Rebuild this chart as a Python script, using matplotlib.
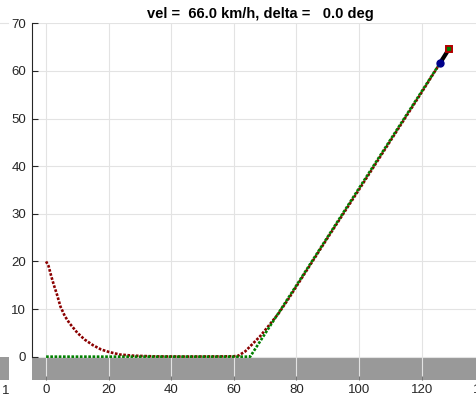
import matplotlib
matplotlib.use("Agg")
import matplotlib.pyplot as plt
from matplotlib.patches import Rectangle

plt.rcParams['font.family'] = ['Liberation Sans', 'DejaVu Sans']

# trajectory (x in m, y in m)
red_x = [0, 0.8, 1.6, 2.5, 3.5, 4.6, 6, 7.5, 10, 12.3, 15, 17.6, 20, 23.5, 28, 35, 45,
         55, 60, 61.4, 63.6, 65.7, 68.4, 71, 74.3, 77.5, 80.7, 90, 100, 110, 120, 128.8]
red_y = [20, 19, 17, 15, 13, 10.5, 8.5, 7, 5, 3.6, 2.4, 1.5, 1.0, 0.45, 0.2, 0.05, 0.02,
         0.05, 0.08, 0.2, 1.1, 2.5, 4.3, 6.4, 9.1, 12.2, 15.5, 25.0, 35.1, 45.3, 55.5, 64.7]

green_x = [0, 30, 65.2, 80, 100, 125.8]
green_y = [0, 0, 0, 15.0, 35.4, 61.6]

# current car pose: rear (blue) -> front (red square)
car_x = [125.8, 128.8]
car_y = [61.6, 64.7]

title = 'vel =  66.0 km/h, delta =   0.0 deg'
xticks = [0, 20, 40, 60, 80, 100, 120, 140]
yticks = [0, 10, 20, 30, 40, 50, 60, 70]

W, H = 477, 398
fig = plt.figure(figsize=(W / 100, H / 100), dpi=100)

left, right, top, bottom = 31.7, 489.3, 23.3, 380.0
ax = fig.add_axes([left / W, 1 - bottom / H, (right - left) / W, (bottom - top) / H])
ax.set_xlim(-4.6, 141.6)
ax.set_ylim(-4.9, 70)

# ground
ax.add_patch(Rectangle((-10, -10), 200, 10, facecolor='#999999', edgecolor='none', zorder=0.4))

ax.plot(red_x, red_y, color='#8b0000', lw=1.9, linestyle=(0, (1, 0.6)), zorder=2)
ax.plot(green_x, green_y, color='#008000', lw=1.9, linestyle=(0, (1, 0.6)), zorder=2.1)
ax.plot(car_x, car_y, color='black', lw=3, zorder=3)
ax.plot(car_x[0], car_y[0], 'o', color='#00008b', ms=5, zorder=4)
ax.plot(car_x[1], car_y[1], 's', mfc='#008000', mec='#b00000', mew=1.4, ms=5, zorder=4)

ax.set_xticks(xticks)
ax.set_yticks(yticks)
ax.set_axisbelow(True)
ax.grid(True, color='#e3e3e3', lw=0.8)
for s in ['top', 'right', 'bottom']:
    ax.spines[s].set_visible(False)
ax.spines['left'].set_bounds(0, 70)
ax.spines['left'].set_color('#262626')
ax.tick_params(axis='both', direction='in', labelsize=9.5, labelcolor='#262626')
ax.tick_params(axis='x', length=3, color='#777777', pad=3)
ax.tick_params(axis='y', length=4, color='#262626', pad=4)

ax.set_title(title, fontsize=10.5, fontweight='bold', pad=4, color='black')

# pieces of the neighbouring subplot on the left edge
fig.patches.append(Rectangle((0, 1 - 380 / H), 9 / W, 23.3 / H, transform=fig.transFigure,
                             facecolor='#999999', edgecolor='none'))
fig.lines.append(plt.Line2D([0, 8 / W], [1 - 23.3 / H, 1 - 23.3 / H], transform=fig.transFigure,
                            color='#e3e3e3', lw=0.8))
fig.text(6 / W, 1 - 391 / H, '1', fontsize=9.5, color='#262626', ha='center', va='center')

fig.savefig('out.png', dpi=100)
